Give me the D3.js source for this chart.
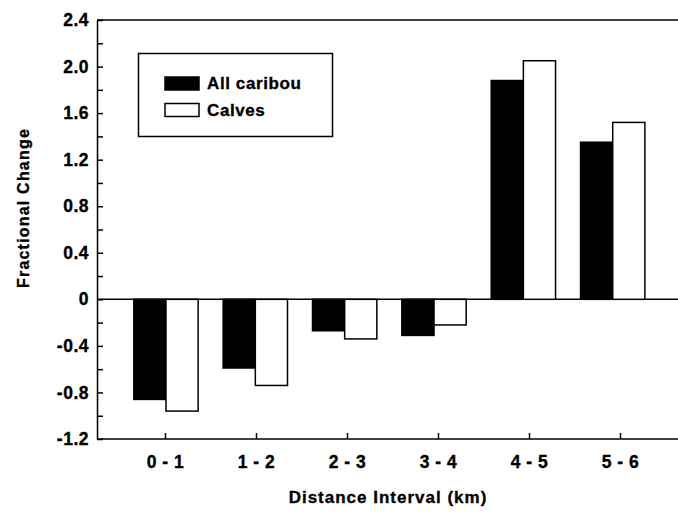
<!DOCTYPE html>
<html>
<head>
<meta charset="utf-8">
<script src="https://cdn.jsdelivr.net/npm/d3@7"></script>
<style>
  body { margin: 0; background: #fff; }
  text { font-family: "Liberation Sans", Arial, sans-serif; font-weight: bold; fill: #000; stroke: #000; stroke-width: 0.35px; }
</style>
</head>
<body>
<div id="chart"></div>
<script>
// data
let intervals = ["0 - 1", "1 - 2", "2 - 3", "3 - 4", "4 - 5", "5 - 6"];
let series = ["All caribou", "Calves"];
let allCaribou = [-0.86, -0.59, -0.27, -0.31, 1.88, 1.35];
let calves = [-0.96, -0.74, -0.34, -0.22, 2.05, 1.52];
let majorTicks = [-1.2, -0.8, -0.4, 0, 0.4, 0.8, 1.2, 1.6, 2.0, 2.4];
let minorTicks = [-1.0, -0.6, -0.2, 0.2, 0.6, 1.0, 1.4, 1.8, 2.2];

let chart_width = 678, chart_height = 514;
let plot_left = 97, plot_right = 678, plot_top = 20, plot_bottom = 439;

let data = intervals.map(function(d, i) {
  return {interval: d, values: [allCaribou[i], calves[i]]};
});

let svg = d3.select("#chart")
            .append("svg")
            .attr("width", chart_width)
            .attr("height", chart_height);

let y = d3.scaleLinear()
          .domain([-1.2, 2.4])
          .range([plot_bottom, plot_top]);

let x = d3.scaleBand()
          .domain(intervals)
          .range([121.3, 657.4])
          .paddingInner(0.28)
          .paddingOuter(0.14);

let xSub = d3.scaleBand()
             .domain(series)
             .range([0, x.bandwidth()]);

// tick marks on the original sit a little off the bar centres
let xTicks = d3.scalePoint()
               .domain(intervals)
               .range([165, 620]);

let color = d3.scaleOrdinal()
              .domain(series)
              .range(["#000", "#fff"]);

function fmt(d) {
  if (d === 0) return "0";
  return d3.format(".1f")(d).replace("\u2212", "-");
}

// frame lines top and bottom, plus the zero line
[plot_top, plot_bottom, y(0)].forEach(function(yy) {
  svg.append("line")
     .attr("x1", plot_left).attr("x2", plot_right)
     .attr("y1", yy).attr("y2", yy)
     .attr("stroke", "#000").attr("stroke-width", 1.5);
});

// y axis
let yAxis = svg.append("g")
   .attr("transform", "translate(" + plot_left + ",0)")
   .call(d3.axisLeft(y).tickValues(majorTicks).tickFormat(fmt)
           .tickSizeInner(-6).tickSizeOuter(0).tickPadding(8));
yAxis.selectAll("text")
     .style("font-size", "17.5px")
     .style("letter-spacing", "0.5px");

svg.append("g")
   .attr("transform", "translate(" + plot_left + ",0)")
   .call(d3.axisLeft(y).tickValues(minorTicks).tickFormat("")
           .tickSizeInner(-6).tickSizeOuter(0))
   .select(".domain").remove();

svg.selectAll(".tick line, .domain")
   .attr("stroke", "#000")
   .attr("stroke-width", 1.5);

// bars
let groups = svg.append("g")
   .selectAll("g")
   .data(data)
   .enter().append("g")
   .attr("transform", function(d) { return "translate(" + x(d.interval) + ",0)"; });

groups.selectAll("rect")
   .data(function(d) { return d.values.map(function(v, i) { return {key: series[i], value: v}; }); })
   .enter().append("rect")
   .attr("x", function(d) { return xSub(d.key); })
   .attr("y", function(d) { return y(Math.max(0, d.value)); })
   .attr("width", xSub.bandwidth())
   .attr("height", function(d) { return Math.abs(y(d.value) - y(0)); })
   .attr("fill", function(d) { return color(d.key); })
   .attr("stroke", "#000")
   .attr("stroke-width", 1.5);

// x axis
let xAxis = svg.append("g")
   .attr("transform", "translate(0," + plot_bottom + ")")
   .call(d3.axisBottom(xTicks).tickSizeInner(-6).tickSizeOuter(0).tickPadding(17));
xAxis.select(".domain").remove();
xAxis.selectAll(".tick line").attr("stroke", "#000").attr("stroke-width", 1.5);
xAxis.selectAll("text")
     .style("font-size", "17.5px")
     .style("letter-spacing", "0.5px");

// axis titles
svg.append("text")
   .attr("transform", "translate(29,208) rotate(-90)")
   .style("text-anchor", "middle")
   .style("font-size", "16px")
   .style("letter-spacing", "1.2px")
   .text("Fractional Change");

svg.append("text")
   .attr("x", 388)
   .attr("y", 503)
   .style("text-anchor", "middle")
   .style("font-size", "17px")
   .style("letter-spacing", "1px")
   .text("Distance Interval (km)");

// legend
svg.append("rect")
   .attr("x", 138.5).attr("y", 53.5)
   .attr("width", 194).attr("height", 83)
   .attr("fill", "#fff")
   .attr("stroke", "#000")
   .attr("stroke-width", 1.5);

let legend = svg.selectAll(".legend")
                .data(series)
                .enter().append("g")
                .attr("class", "legend")
                .attr("transform", function(d, i) { return "translate(165," + (77 + i * 26.5) + ")"; });

legend.append("rect")
      .attr("width", 34)
      .attr("height", 13)
      .attr("fill", function(d) { return color(d); })
      .attr("stroke", "#000")
      .attr("stroke-width", 1.5);

legend.append("text")
      .attr("x", 42)
      .attr("y", 12)
      .style("font-size", "17px")
      .style("letter-spacing", "0.6px")
      .text(function(d) { return d; });
</script>
</body>
</html>
